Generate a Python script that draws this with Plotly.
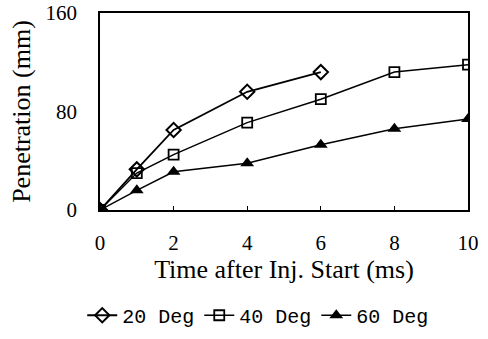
import plotly.graph_objects as go

# Spray tip penetration vs. time after injection start
time_20 = [0, 1, 2, 4, 6]
pen_20 = [0, 33, 65, 96, 112]

time_40 = [0, 1, 2, 4, 6, 8, 10]
pen_40 = [0, 30, 45, 71, 90, 112, 118]

time_60 = [0, 1, 2, 4, 6, 8, 10]
pen_60 = [0, 16, 31, 38, 53, 66, 74]

x_ticks = [0, 2, 4, 6, 8, 10]
y_ticks = [0, 80, 160]

serif = "Liberation Serif, Times New Roman, serif"
mono = "Liberation Mono, Courier New, monospace"

fig = go.Figure()
fig.add_trace(go.Scatter(
    x=time_20, y=pen_20, name="20 Deg", mode="lines+markers",
    line=dict(color="black", width=1.8),
    marker=dict(symbol="diamond-open", size=11, color="black", line=dict(width=2)),
))
fig.add_trace(go.Scatter(
    x=time_40, y=pen_40, name="40 Deg", mode="lines+markers",
    line=dict(color="black", width=1.5),
    marker=dict(symbol="square-open", size=10, color="black", line=dict(width=1.8)),
))
fig.add_trace(go.Scatter(
    x=time_60, y=pen_60, name="60 Deg", mode="lines+markers",
    line=dict(color="black", width=1.5),
    marker=dict(symbol="triangle-up", size=12, color="black"),
))

fig.update_layout(
    width=488, height=339,
    margin=dict(l=100, r=20, t=13, b=129, autoexpand=False),
    paper_bgcolor="white", plot_bgcolor="white",
    showlegend=True,
    legend=dict(
        orientation="h", x=0.43, xanchor="center",
        yref="container", y=0.07, yanchor="middle",
        font=dict(family=mono, size=20, color="black"),
        itemwidth=30, tracegroupgap=0,
    ),
    xaxis=dict(
        range=[0, 10], tickvals=x_ticks, ticks="inside", ticklen=4,
        tickcolor="black", showline=True, linecolor="black", linewidth=1.5,
        mirror=True, showgrid=False, zeroline=False,
        ticklabelstandoff=13,
        tickfont=dict(family=serif, size=21, color="black"),
        title=dict(text="Time after Inj. Start (ms)",
                   font=dict(family=serif, size=26, color="black"), standoff=4),
    ),
    # labelled y axis: transparent outside ticks push labels away from the frame
    yaxis=dict(
        range=[0, 160], tickvals=y_ticks, ticks="outside", ticklen=17,
        tickcolor="rgba(0,0,0,0)", showline=True, linecolor="black", linewidth=1.5,
        mirror=True, showgrid=False, zeroline=False,
        tickfont=dict(family=serif, size=21, color="black"),
        title=dict(text="Penetration (mm)",
                   font=dict(family=serif, size=26, color="black"), standoff=7),
    ),
    # overlay axis that only draws the short inside tick marks
    yaxis2=dict(
        range=[0, 160], tickvals=y_ticks, ticks="inside", ticklen=4,
        tickcolor="black", showticklabels=False, showline=False,
        showgrid=False, zeroline=False, overlaying="y", side="left",
    ),
)

fig.write_html("out.html")
